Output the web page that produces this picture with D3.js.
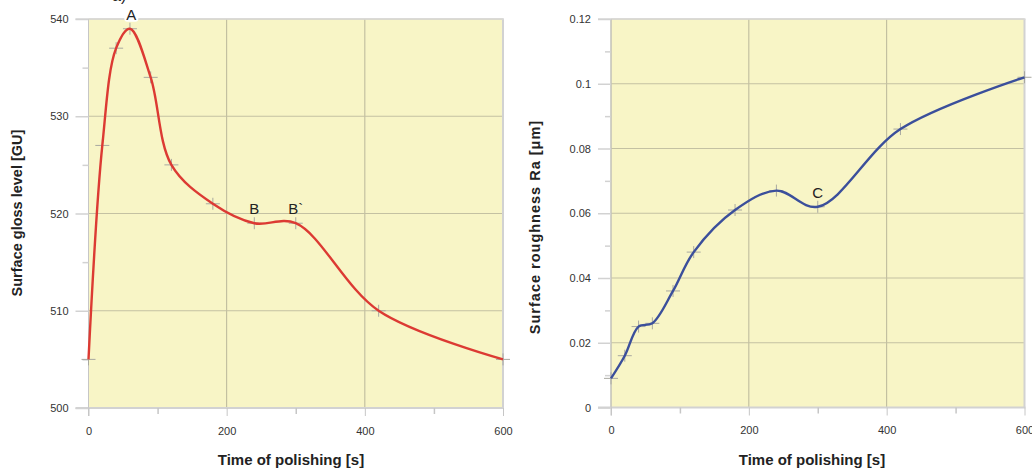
<!DOCTYPE html>
<html><head><meta charset="utf-8">
<script src="https://cdn.jsdelivr.net/npm/d3@7"></script>
<style>
html,body{margin:0;padding:0;background:#fff;}
svg{display:block;font-family:"Liberation Sans",Arial,sans-serif;}
</style></head>
<body>
<svg id="chart" width="1032" height="468"></svg>
<script>
// ---- data ----
const timeGloss = [0, 20, 40, 60, 90, 120, 180, 240, 300, 420, 600];
const glossValues = [505, 527, 537, 539, 534, 525, 521, 519, 519, 510, 505];
const timeRough = [0, 20, 40, 60, 90, 120, 180, 240, 300, 420, 600];
const roughValues = [0.009, 0.016, 0.025, 0.026, 0.036, 0.048, 0.061, 0.067, 0.062, 0.086, 0.102];
const xTicks = [0, 200, 400, 600];
const xMinorTicks = [100, 300, 500];
const glossTicks = [500, 510, 520, 530, 540];
const glossMinor = [505, 515, 525, 535];
const roughTicks = [0, 0.02, 0.04, 0.06, 0.08, 0.1, 0.12];
const roughMinor = [0.01, 0.03, 0.05, 0.07, 0.09, 0.11];
const glossLabels = [{t: 62, v: 539, text: "A", box: true}, {t: 240, v: 519, text: "B"}, {t: 300, v: 519, text: "B`"}];
const roughLabels = [{t: 300, v: 0.062, text: "C"}];

const svg = d3.select("#chart");

function drawChart(cfg) {
  const x = d3.scaleLinear().domain([0, 600]).range([cfg.left, cfg.right]);
  const y = d3.scaleLinear().domain(cfg.yDomain).range([cfg.bottom, cfg.top]);
  const g = svg.append("g");

  g.append("rect").attr("x", cfg.left).attr("y", cfg.top)
    .attr("width", cfg.right - cfg.left).attr("height", cfg.bottom - cfg.top)
    .attr("fill", "#f8f5c6");

  // gridlines
  g.selectAll(".vg").data(xTicks).join("line")
    .attr("x1", d => x(d)).attr("x2", d => x(d))
    .attr("y1", cfg.top).attr("y2", cfg.bottom)
    .attr("stroke", "#b9b69a").attr("stroke-width", 1);
  g.selectAll(".hg").data(cfg.yTicks).join("line")
    .attr("x1", cfg.left).attr("x2", cfg.right)
    .attr("y1", d => y(d)).attr("y2", d => y(d))
    .attr("stroke", "#c4c1a2").attr("stroke-width", 1);

  // border lines (light grey)
  g.append("line").attr("x1", cfg.right).attr("x2", cfg.right).attr("y1", cfg.top).attr("y2", cfg.bottom)
    .attr("stroke", "#d2d2d2").attr("stroke-width", 2);
  g.append("line").attr("x1", cfg.left - 13).attr("x2", cfg.right + 1).attr("y1", cfg.top).attr("y2", cfg.top)
    .attr("stroke", "#d8d8d8").attr("stroke-width", 1.5);
  g.append("line").attr("x1", cfg.left - 13).attr("x2", cfg.right + 1).attr("y1", cfg.bottom).attr("y2", cfg.bottom)
    .attr("stroke", "#d2d2d2").attr("stroke-width", 2);
  g.append("line").attr("x1", cfg.left).attr("x2", cfg.left).attr("y1", cfg.top).attr("y2", cfg.bottom + 8)
    .attr("stroke", "#c6c6c6").attr("stroke-width", 1);

  // y axis
  const yAxis = d3.axisLeft(y).tickValues(cfg.yTicks).tickSize(13).tickPadding(7)
    .tickFormat(cfg.yFormat);
  const ya = g.append("g").attr("transform", `translate(${cfg.left},0)`).call(yAxis);
  ya.select(".domain").remove();
  ya.selectAll(".tick line").attr("stroke", "#d2d2d2").attr("stroke-width", 1.5);
  ya.selectAll(".tick text").attr("fill", "#333").style("font-size", "11px");
  const yMin = d3.axisLeft(y).tickValues(cfg.yMinor).tickSize(6).tickFormat("");
  const ym = g.append("g").attr("transform", `translate(${cfg.left},0)`).call(yMin);
  ym.select(".domain").remove();
  ym.selectAll(".tick line").attr("stroke", "#d2d2d2").attr("stroke-width", 1.5);

  // x axis
  const xAxis = d3.axisBottom(x).tickValues(xTicks).tickSize(8).tickPadding(11);
  const xa = g.append("g").attr("transform", `translate(0,${cfg.bottom})`).call(xAxis);
  xa.select(".domain").remove();
  xa.selectAll(".tick line").attr("stroke", "#c6c6c6").attr("stroke-width", 1);
  xa.selectAll(".tick text").attr("fill", "#333").style("font-size", "11px");
  const xMin = d3.axisBottom(x).tickValues(xMinorTicks).tickSize(6).tickFormat("");
  const xm = g.append("g").attr("transform", `translate(0,${cfg.bottom})`).call(xMin);
  xm.select(".domain").remove();
  xm.selectAll(".tick line").attr("stroke", "#c6c6c6").attr("stroke-width", 1.5);

  // axis titles
  g.append("text").attr("x", cfg.xTitleX).attr("y", 465).attr("text-anchor", "middle")
    .attr("font-weight", "bold").attr("font-size", "15px").attr("fill", "#222")
    .text("Time of polishing [s]");
  g.append("text").attr("transform", `translate(${cfg.yTitleX},${cfg.yTitleY}) rotate(-90)`)
    .attr("text-anchor", "middle").attr("font-weight", "bold").attr("font-size", "14.5px")
    .attr("letter-spacing", cfg.yTitleSpacing).attr("fill", "#222")
    .text(cfg.yTitle);

  // markers
  const pts = cfg.t.map((t, i) => [t, cfg.v[i]]);
  const mk = g.append("g").attr("stroke", "#a8a8a0").attr("stroke-width", 1);
  mk.selectAll(".mh").data(pts).join("line")
    .attr("x1", d => x(d[0]) - 7).attr("x2", d => x(d[0]) + 7)
    .attr("y1", d => y(d[1])).attr("y2", d => y(d[1]));
  mk.selectAll(".mv").data(pts).join("line")
    .attr("x1", d => x(d[0])).attr("x2", d => x(d[0]))
    .attr("y1", d => y(d[1]) - 6).attr("y2", d => y(d[1]) + 6);

  // curve
  const line = d3.line().x(d => x(d[0])).y(d => y(d[1])).curve(d3.curveCatmullRom.alpha(0.5));
  g.append("path").datum(pts).attr("d", line).attr("fill", "none")
    .attr("stroke", cfg.color).attr("stroke-width", 2.4);

  // point labels
  cfg.labels.forEach(l => {
    const lx = x(l.t), ly = y(l.v) - 9;
    if (l.box) {
      g.append("rect").attr("x", lx - 7).attr("y", ly - 14).attr("width", 14).attr("height", 16)
        .attr("rx", 3).attr("fill", "#fff");
    }
    g.append("text").attr("x", lx).attr("y", ly).attr("text-anchor", "middle")
      .attr("font-size", "15px").attr("fill", "#222").text(l.text);
  });
}

drawChart({
  left: 88.5, right: 503, top: 19, bottom: 408,
  yDomain: [500, 540], yTicks: glossTicks, yMinor: glossMinor, yFormat: d3.format("d"),
  t: timeGloss, v: glossValues, color: "#dc3a33", labels: glossLabels,
  yTitle: "Surface gloss level [GU]", yTitleX: 22, yTitleY: 213, yTitleSpacing: 0, xTitleX: 291
});
drawChart({
  left: 611, right: 1024.5, top: 19, bottom: 407.5,
  yDomain: [0, 0.12], yTicks: roughTicks, yMinor: roughMinor, yFormat: d => d3.format("")(+d.toFixed(2)),
  t: timeRough, v: roughValues, color: "#3b4f9b", labels: roughLabels,
  yTitle: "Surface roughness Ra [\u03bcm]", yTitleX: 540, yTitleY: 227, yTitleSpacing: 1, xTitleX: 812
});

svg.append("text").attr("x", 112).attr("y", 1).attr("font-size", "16px").attr("fill", "#222").text("a)");
</script>
</body></html>
